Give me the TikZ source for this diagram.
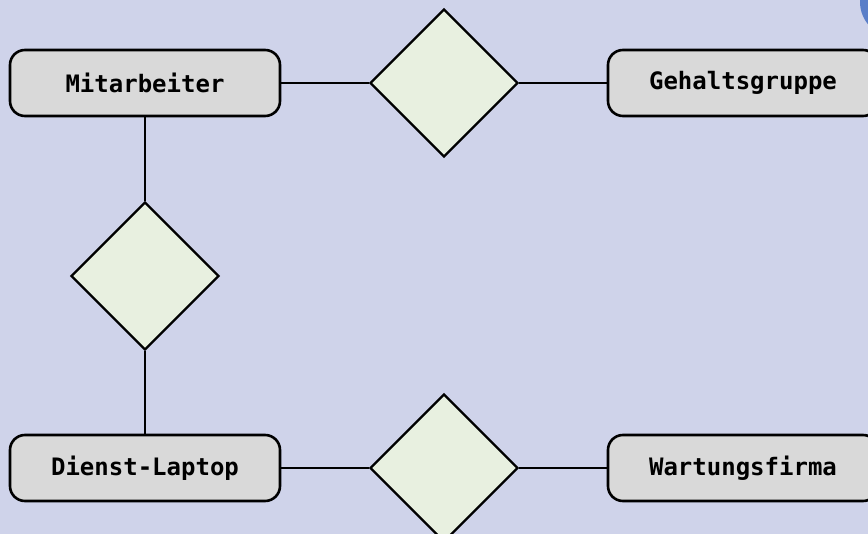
\documentclass[tikz,border=0pt]{standalone}
\usepackage{fontspec}
\setmonofont{DejaVu Sans Mono}
\usepackage{xcolor}
\usepackage{tikz}
\usetikzlibrary{shapes.geometric}
\usetikzlibrary{positioning}
\definecolor{bgcol}{HTML}{CFD3EA}
\definecolor{boxcol}{HTML}{D9D9D9}
\definecolor{relcol}{HTML}{E8F0E0}
\definecolor{bluecol}{HTML}{5A7EC8}
\tikzstyle{entity} = [rectangle, rounded corners=15pt, minimum width=270pt, minimum height=66pt, text centered, draw=black, line width=2.6pt, fill=boxcol, font=\ttfamily\bfseries\fontsize{24}{28}\selectfont]
\tikzstyle{relation} = [diamond, minimum width=148pt, minimum height=148pt, inner sep=0pt, aspect=1, draw=black, line width=2.2pt, fill=relcol]
\tikzstyle{line} = [line width=2pt, black]

\begin{document}
\begin{tikzpicture}[x=1pt, y=-1pt]
    \useasboundingbox (0,0) rectangle (868,534);
    \clip (0,0) rectangle (868,534);
    \fill [bgcol] (0,0) rectangle (868,534);
    \fill [bluecol] (895,2) circle (35);
    \node (e1) [entity] at (145,83) {Mitarbeiter};
    \node (e2) [entity] at (743,83) {Gehaltsgruppe};
    \node (e3) [entity] at (145,468) {Dienst-Laptop};
    \node (e4) [entity] at (743,468) {Wartungsfirma};
    \node (r1) [relation] at (444,83) {};
    \node (r2) [relation] at (145,276) {};
    \node (r3) [relation] at (444,468) {};
    \draw [line] (e1) -- (r1);
    \draw [line] (r1) -- (e2);
    \draw [line] (e1) -- (r2);
    \draw [line] (r2) -- (e3);
    \draw [line] (e3) -- (r3);
    \draw [line] (r3) -- (e4);
\end{tikzpicture}
\end{document}
